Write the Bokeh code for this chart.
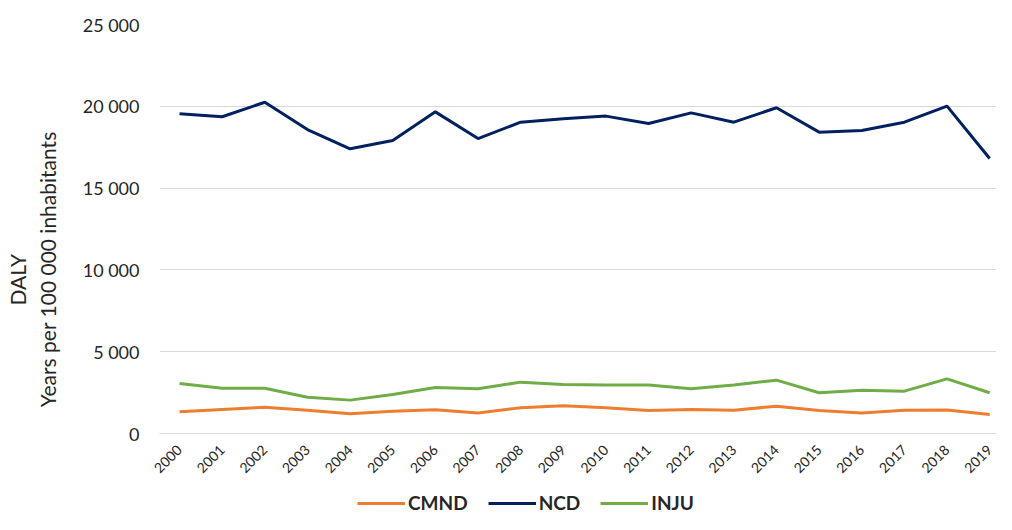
from bokeh.plotting import figure
from bokeh.models import FixedTicker, Legend, LegendItem, Range1d
from bokeh.layouts import column
from bokeh.embed import file_html
from bokeh.resources import INLINE
import math

years = list(range(2000, 2020))
ncd = [19540, 19360, 20250, 18580, 17400, 17910, 19660, 18030, 19030, 19240,
       19400, 18950, 19600, 19030, 19910, 18420, 18520, 19030, 20010, 16810]
inju = [3056, 2770, 2770, 2220, 2040, 2380, 2810, 2730, 3140, 3000,
        2970, 2970, 2730, 2970, 3260, 2490, 2650, 2590, 3340, 2490]
cmnd = [1330, 1470, 1610, 1420, 1200, 1360, 1450, 1260, 1570, 1690,
        1580, 1410, 1470, 1420, 1670, 1410, 1260, 1420, 1440, 1160]
y_ticks = [0, 5000, 10000, 15000, 20000, 25000]
y_tick_labels = ["0", "5 000", "10 000", "15 000", "20 000", "25 000"]
series_names = ["CMND", "NCD", "INJU"]
y_title = ["DALY", "Years per 100 000 inhabitants"]
colors = ["#ED7D31", "#002060", "#70AD47"]

FONT = "Lato"
TXT = "#262626"
NB = "\u00a0"

p = figure(width=996, height=480, output_backend="svg", toolbar_location=None,
           x_range=Range1d(1999.53, 2019.16), y_range=Range1d(0, 25000),
           min_border_left=159, min_border_right=0, min_border_top=24,
           min_border_bottom=47)
p.outline_line_color = None

series = [cmnd, ncd, inju]
for vals, c in zip(series, colors):
    p.line(years, vals, line_color=c, line_width=3)

p.xgrid.visible = False
p.ygrid.grid_line_color = "#D9D9D9"
p.ygrid.grid_line_width = 1
p.ygrid.ticker = FixedTicker(ticks=y_ticks)

p.yaxis.ticker = FixedTicker(ticks=y_ticks)
p.yaxis.major_label_overrides = {t: l for t, l in zip(y_ticks, y_tick_labels)}
p.yaxis.axis_line_color = None
p.yaxis.major_tick_line_color = None
p.yaxis.minor_tick_line_color = None
p.yaxis.major_label_text_font = FONT
p.yaxis.major_label_text_font_size = "18px"
p.yaxis.major_label_text_color = TXT
p.yaxis.major_label_standoff = 14
# two-line title; trailing no-break spaces push each line toward the bottom
p.yaxis.axis_label = y_title[0] + NB * 19 + "\n" + y_title[1] + NB * 15
p.yaxis.axis_label_text_font = FONT
p.yaxis.axis_label_text_font_size = "21px"
p.yaxis.axis_label_text_font_style = "normal"
p.yaxis.axis_label_text_color = TXT
p.yaxis.axis_label_standoff = 20

p.xaxis.ticker = FixedTicker(ticks=years)
p.xaxis.axis_line_color = "#D9D9D9"
p.xaxis.major_tick_line_color = None
p.xaxis.minor_tick_line_color = None
p.xaxis.major_label_orientation = math.pi / 4
p.xaxis.major_label_text_font = FONT
p.xaxis.major_label_text_font_size = "14px"
p.xaxis.major_label_text_color = TXT
p.xaxis.major_label_standoff = 8

# legend strip below the chart (series drawn again, outside its view)
p2 = figure(width=996, height=34, output_backend="svg", toolbar_location=None,
            x_range=Range1d(0, 1), y_range=Range1d(0, 1),
            x_axis_location=None, y_axis_location=None,
            min_border_left=0, min_border_right=0, min_border_top=0,
            min_border_bottom=0)
p2.outline_line_color = None
p2.xgrid.visible = False
p2.ygrid.visible = False
items = []
for name, vals, c in zip(series_names, series, colors):
    r = p2.line(years, vals, line_color=c, line_width=3)
    items.append(LegendItem(label=name, renderers=[r]))
legend = Legend(items=items, orientation="horizontal", location=(198, 0),
                label_text_font=FONT, label_text_font_size="19px",
                label_text_font_style="bold", label_text_color=TXT,
                glyph_width=48, glyph_height=18, spacing=20,
                label_standoff=3, padding=2, margin=0,
                border_line_color=None, background_fill_alpha=0)
p2.add_layout(legend)

layout = column(p, p2, spacing=0)
open("out.html", "w").write(file_html(layout, INLINE))
